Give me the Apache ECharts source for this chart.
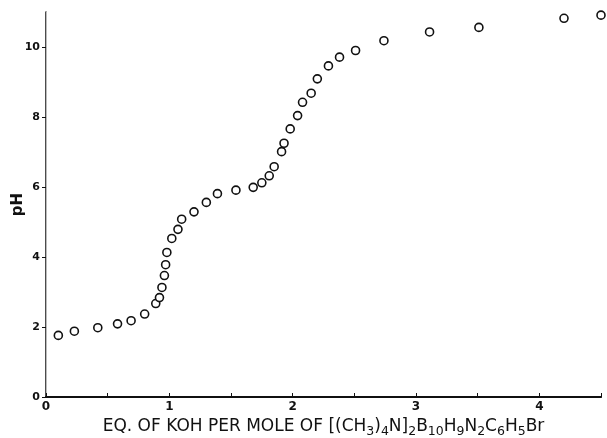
<!DOCTYPE html>
<html>
<head>
<meta charset="utf-8">
<script src="https://cdn.jsdelivr.net/npm/echarts@6/dist/echarts.min.js"></script>
<style>html,body{margin:0;padding:0;background:#fff}#c{width:607px;height:438px}</style>
</head>
<body>
<div id="c"></div>
<script>
const eqKOH = [0.10,0.23,0.42,0.58,0.69,0.80,0.89,0.92,0.94,0.96,0.97,0.98,1.02,1.07,1.10,1.20,1.30,1.39,1.54,1.68,1.75,1.81,1.85,1.91,1.93,1.98,2.04,2.08,2.15,2.20,2.29,2.38,2.51,2.74,3.11,3.51,4.20,4.50];
const pH = [1.76,1.88,1.98,2.09,2.18,2.37,2.67,2.84,3.13,3.47,3.78,4.13,4.53,4.79,5.08,5.29,5.56,5.81,5.91,5.99,6.12,6.32,6.58,7.01,7.25,7.66,8.04,8.42,8.68,9.09,9.46,9.71,9.90,10.18,10.43,10.56,10.82,10.91];
const xTicks = [0,0.5,1,1.5,2,2.5,3,3.5,4,4.5];
const xLabels = [0,1,2,3,4];
const yTicks = [0,2,4,6,8,10];

const chart = echarts.init(document.getElementById('c'), null, {renderer:'canvas'});
const ff = 'DejaVu Sans';
const sub = {fontSize: 12.5, fontFamily: ff, color:'#111', verticalAlign:'bottom', padding:[9,0,0,0]};
chart.setOption({
  animation: false,
  backgroundColor: '#fff',
  grid: {left: 46, right: 6, top: 12, bottom: 41, containLabel: false, outerBoundsMode: 'none'},
  xAxis: [{
    type: 'value', min: 0, max: 4.5,
    axisLine: {show: true, lineStyle: {color: '#111', width: 2}},
    axisTick: {show: true, inside: true, length: 4, customValues: xTicks, lineStyle: {color:'#111', width: 1}},
    axisLabel: {customValues: xLabels, color: '#111', fontFamily: ff, fontSize: 12, fontWeight: 'bold', margin: 4},
    splitLine: {show: false},
    name: '{t|EQ. OF KOH PER MOLE OF [(CH}{s|3}{t|)}{s|4}{t|N]}{s|2}{t|B}{s|10}{t|H}{s|9}{t|N}{s|2}{t|C}{s|6}{t|H}{s|5}{t|Br}',
    nameLocation: 'middle', nameGap: 19, nameMoveOverlap: false,
    nameTextStyle: {
      rich: {
        t: {fontSize: 17, fontFamily: ff, color: '#111'},
        s: sub
      }
    }
  },{
    type: 'value', min: 0, max: 4.5, position: 'top',
    axisLine: {show: true, lineStyle: {color: '#111', width: 1.5}},
    axisTick: {show: false}, axisLabel: {show: false}, splitLine: {show: false}
  }],
  yAxis: [{
    type: 'value', min: 0, max: 11,
    axisLine: {show: true, lineStyle: {color: '#111', width: 1.5}},
    axisTick: {show: true, inside: false, length: 4, customValues: yTicks, lineStyle: {color:'#111', width: 1}},
    axisLabel: {customValues: yTicks, color: '#111', fontFamily: ff, fontSize: 11, fontWeight: 'bold', margin: 6},
    splitLine: {show: false},
    name: 'pH', nameLocation: 'middle', nameGap: 20, nameRotate: 90, nameMoveOverlap: false,
    nameTextStyle: {fontFamily: ff, fontSize: 15, fontWeight: 'bold', color: '#111'}
  },{
    type: 'value', min: 0, max: 11, position: 'right',
    axisLine: {show: true, lineStyle: {color: '#bbb', width: 1}},
    axisTick: {show: false}, axisLabel: {show: false}, splitLine: {show: false}
  }],
  series: [{
    type: 'scatter',
    data: eqKOH.map((x, i) => [x, pH[i]]),
    symbol: 'circle', symbolSize: 8,
    clip: false,
    itemStyle: {color: '#fff', borderColor: '#111', borderWidth: 1.6, opacity: 1}
  }]
});
</script>
</body>
</html>
